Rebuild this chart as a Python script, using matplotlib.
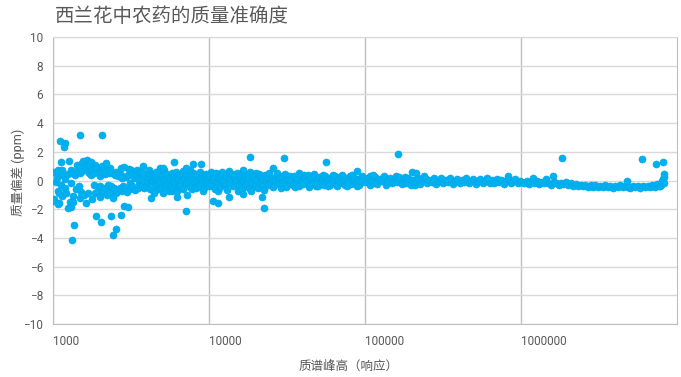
import numpy as np
import matplotlib
matplotlib.use('Agg')
import matplotlib.pyplot as plt

plt.rcParams['font.family'] = ['Roboto', 'Noto Sans CJK SC', 'DejaVu Sans']

# 质谱峰高 (响应) 与 质量偏差 (ppm)
# 低响应区 1000-4200, 偏差较大
low_pts = [
    (1000, 0.6), (1020, -1.3), (1040, -0.1), (1060, 0.2), (1070, 0.7),
    (1080, -0.7), (1090, -1.55), (1100, -0.9), (1110, 0.45), (1120, -0.3),
    (1140, 0.75), (1150, -1.05), (1160, 0.4), (1190, -0.55), (1200, 0.1),
    (1220, -0.85), (1240, 0.45), (1250, -1.9), (1260, 1.35), (1280, -1.5),
    (1300, 0.75), (1310, -0.2), (1330, 0.55), (1350, -1.1), (1380, 0.4),
    (1400, -0.6), (1420, 1.05), (1450, 0.8), (1460, -0.35), (1480, -1.2),
    (1490, 0.5), (1520, -0.8), (1530, 1.2), (1540, 0.65), (1560, 1.35),
    (1590, -1.0), (1600, 0.95), (1620, -1.6), (1650, 0.7), (1660, 1.4),
    (1670, -0.9), (1700, 0.55), (1710, 1.0), (1740, 0.35), (1750, 1.3),
    (1770, -1.3), (1800, 0.7), (1820, -0.3), (1840, 0.5), (1860, 1.1),
    (1870, -0.9), (1900, 0.95), (1930, -0.75), (1960, 0.6), (1990, 0.3),
    (2000, -1.15), (2010, -0.35), (2030, 0.6), (2050, 1.0), (2080, -0.8),
    (2120, 0.8), (2140, -0.55), (2170, 0.45), (2180, 1.2), (2210, -1.0),
    (2230, 0.7), (2260, -0.3), (2290, 0.5), (2320, -0.8), (2330, 0.9),
    (2360, -0.4), (2400, 0.5), (2430, -1.25), (2450, -0.5), (2490, 0.4),
    (2520, -0.9), (2540, 0.6), (2580, -0.7), (2620, 0.3), (2640, 0.55),
    (2700, -0.5), (2720, 0.35), (2740, 0.9), (2760, -0.7), (2780, 0.2),
    (2820, -0.35), (2850, 0.95), (2900, -0.5), (2950, 0.25), (2970, -0.8),
    (3020, 0.4), (3050, 0.8), (3100, -0.6), (3120, -0.2), (3180, 0.7),
    (3210, -0.35), (3270, 0.55), (3300, 0.15), (3360, -0.65), (3420, 0.45),
    (3450, 0.7), (3520, -0.5), (3550, -0.2), (3620, 0.6), (3660, 0.2),
    (3730, -0.3), (3800, 0.55), (3840, -0.5), (3960, -0.4), (4000, 0.0),
    (4040, 0.25), (4080, 0.5),
]

# 4200-10000
mid_pts = [
    (4150, 0.7), (4200, -0.6), (4230, 0.35), (4260, 0.2), (4310, -0.1), (4370, 0.45), (4400, 0.0),
    (4420, -0.85), (4480, 0.05), (4540, 0.6), (4570, -0.2), (4600, -0.35), (4660, 0.25), (4720, -0.6),
    (4750, 0.5), (4790, 0.0), (4850, 0.85), (4910, -0.2), (4950, -0.5), (4980, 0.35), (5050, -0.9),
    (5120, 0.1), (5150, 0.75), (5190, 0.55), (5260, -0.4), (5330, 0.2), (5350, -0.25), (5400, -0.15),
    (5470, 0.4), (5540, -0.7), (5580, 0.05), (5610, 0.15), (5690, -0.3), (5760, 0.5), (5800, -0.75),
    (5840, 0.0), (5920, -0.5), (6000, 0.3), (6050, 0.0), (6080, -0.2), (6170, 0.6), (6250, -0.75),
    (6300, 0.4), (6340, 0.1), (6430, -0.4), (6520, 0.35), (6550, -0.3), (6610, -0.05), (6700, 0.55),
    (6800, -0.6), (6850, 0.65), (6900, 0.2), (7000, -0.25), (7100, 0.45), (7150, -0.1), (7200, -1.0),
    (7300, 0.0), (7400, 0.3), (7450, 0.2), (7500, -0.45), (7600, 0.7), (7710, 0.1), (7750, -0.6),
    (7820, -0.3), (7930, 0.5), (8050, -0.1), (8100, 0.45), (8160, 0.25), (8280, -0.55), (8400, 0.4),
    (8450, -0.2), (8520, 0.0), (8640, -0.35), (8770, 0.6), (8800, 0.1), (8900, 0.15), (9020, -0.2),
    (9150, 0.35), (9200, -0.75), (9290, -0.5), (9420, 0.05), (9560, 0.45), (9600, 0.1), (9700, -0.15),
    (9850, 0.25), (10000, -0.4),
]

# 10000-100000
band_pts = [
    (10200, 0.3), (10300, 0.6), (10400, -0.35), (10600, 0.05), (10800, 0.15), (10900, -0.6),
    (11100, 0.5), (11300, -0.1), (11400, -0.75), (11600, 0.2), (11800, -0.45), (12000, 0.35),
    (12100, 0.6), (12300, 0.0), (12600, -0.3), (12800, -0.15), (12900, 0.35), (13100, -0.65),
    (13400, 0.1), (13500, 0.65), (13700, -0.2), (14000, 0.45), (14300, -0.4), (14400, 0.3),
    (14600, 0.15), (14900, -0.05), (15200, 0.55), (15300, -0.7), (15500, -0.3), (15900, 0.25),
    (16200, -0.6), (16300, 0.45), (16600, 0.0), (16900, 0.4), (17300, -0.25), (17500, 0.0),
    (17700, 0.2), (18000, -0.5), (18400, 0.6), (18600, -0.7), (18800, -0.1), (19200, 0.3),
    (19600, -0.35), (19900, 0.5), (20000, 0.05), (20500, -0.55), (20900, 0.45), (21100, 0.3),
    (21400, -0.2), (21800, 0.15), (22300, -0.4), (22500, -0.65), (22800, 0.35), (23300, 0.0),
    (23800, -0.3), (24000, 0.2), (24300, 0.5), (24800, -0.15), (25400, 0.2), (25600, -0.35),
    (25900, -0.45), (26500, 0.05), (27100, 0.35), (27300, 0.55), (27700, -0.25), (28300, 0.15),
    (28900, -0.5), (29200, 0.0), (29500, 0.3), (30200, -0.1), (30800, 0.45), (31200, -0.45),
    (31500, -0.3), (32200, 0.1), (32900, -0.2), (33000, 0.3),
    (33700, 0.05), (34400, -0.3), (35200, 0.3), (35600, -0.45), (36000, -0.1), (36800, 0.15),
    (37600, -0.35), (38000, 0.5), (38500, 0.4), (39400, 0.0), (40300, -0.25), (40800, 0.35),
    (41200, 0.2), (42200, -0.05), (43200, 0.35), (43700, -0.45), (44200, -0.3), (45200, 0.1),
    (46300, -0.15), (46900, 0.45), (47400, 0.3), (48500, -0.35), (49600, 0.05), (50200, -0.4),
    (50800, 0.25), (52000, -0.2), (53200, 0.1), (53800, 0.4), (54500, -0.3), (55800, 0.3),
    (57100, -0.05), (57800, -0.4), (58500, 0.15), (59900, -0.3), (61300, 0.2), (62000, 0.4),
    (62800, -0.1), (64300, 0.3), (65800, -0.25), (66600, -0.35), (67400, 0.05), (69000, 0.25),
    (70700, -0.2), (71500, 0.4), (72400, 0.1), (74100, -0.3), (75900, 0.2), (76800, -0.35),
    (77700, -0.05), (79600, 0.3), (81500, -0.25), (82500, 0.35), (83500, 0.05), (85500, 0.2),
    (87500, -0.2), (88500, -0.35), (89600, 0.1), (91800, -0.3), (94000, 0.2), (95000, 0.3),
    (96200, -0.1), (98500, 0.15),
]

# 100000-1000000
high_pts = [
    (101000, -0.1), (104000, 0.2), (107000, -0.3), (108000, 0.3), (110000, 0.05), (113000, -0.15),
    (116000, 0.25), (118000, -0.1), (120000, -0.25), (124000, 0.1), (128000, -0.05), (132000, 0.3),
    (136000, -0.3), (138000, -0.1), (140000, 0.0), (145000, 0.2), (150000, -0.2), (155000, 0.1),
    (158000, 0.3), (160000, -0.1), (166000, 0.25), (172000, -0.25), (178000, 0.05), (180000, 0.25),
    (184000, -0.15), (190000, 0.15), (197000, -0.3), (204000, 0.05), (208000, -0.3), (211000, -0.1),
    (218000, 0.2), (226000, -0.25), (234000, 0.0), (238000, 0.3), (242000, 0.15), (250000, -0.2),
    (259000, 0.05), (268000, -0.1), (277000, 0.15), (287000, -0.25), (297000, 0.0), (307000, 0.15),
    (318000, -0.2), (329000, 0.05), (340000, -0.1), (352000, 0.15), (364000, -0.25), (377000, 0.0),
    (390000, 0.1), (404000, -0.2), (418000, 0.05), (432000, -0.1), (447000, 0.15), (463000, -0.2),
    (479000, 0.0), (496000, 0.1), (513000, -0.25), (531000, -0.05), (549000, 0.1), (568000, -0.2),
    (588000, 0.0), (608000, 0.15), (630000, -0.15), (652000, 0.05), (674000, -0.2), (698000, 0.1),
    (722000, -0.1), (747000, 0.05), (773000, -0.25), (800000, 0.0), (828000, 0.1), (857000, -0.2),
    (887000, 0.0), (918000, 0.1), (950000, -0.2), (983000, -0.05),
]

# 1000000 以上
top_pts = [
    (1010000, -0.1), (1050000, -0.2), (1090000, -0.05), (1130000, -0.25), (1170000, -0.1),
    (1210000, -0.2), (1260000, 0.0), (1300000, -0.25), (1350000, -0.1), (1400000, -0.2),
    (1440000, 0.08), (1500000, -0.15), (1560000, -0.28), (1620000, -0.1), (1680000, -0.2),
    (1740000, -0.3), (1800000, -0.15), (1870000, -0.25), (1940000, -0.12), (2010000, -0.3),
    (2080000, -0.2), (2160000, -0.35), (2240000, -0.25), (2320000, -0.38), (2410000, -0.28),
    (2500000, -0.4), (2590000, -0.3), (2690000, -0.45), (2790000, -0.32), (2890000, -0.42),
    (3000000, -0.3), (3110000, -0.48), (3230000, -0.35), (3350000, -0.42), (3470000, -0.3),
    (3600000, -0.45), (3740000, -0.35), (3880000, -0.5), (4020000, -0.38), (4170000, -0.45),
    (4330000, -0.32), (4490000, -0.48), (4660000, -0.38), (4800000, -0.03), (4830000, -0.42),
    (5010000, -0.5), (5200000, -0.35), (5390000, -0.48), (5590000, -0.4), (5800000, -0.52),
    (6020000, -0.38), (6240000, -0.45), (6470000, -0.35), (6710000, -0.48), (6960000, -0.3),
    (7220000, -0.42), (7490000, -0.25), (7700000, -0.35), (7770000, -0.38), (7900000, -0.3),
    (8000000, -0.05), (8100000, 0.1), (8200000, 0.25), (8200000, 0.45), (8200000, -0.2),
]

# 离群点
outlier_pts = [
    (1110, 2.75), (1190, 2.6), (1180, 2.35), (1480, 3.15), (2050, 3.2), (1120, 1.27),
    (1005, -1.41), (1080, -1.66), (1310, -1.82), (1340, -1.52), (1320, -4.17), (1370, -3.12),
    (1890, -2.47), (2040, -2.9), (2350, -2.5), (2420, -3.78), (2540, -3.4), (2730, -2.38),
    (2850, -1.78), (3040, -1.82), (3760, 1.03), (5070, 0.85), (5970, 1.3), (7900, 1.15),
    (8900, 1.13), (7070, 0.87), (4250, -1.24), (6200, -1.13), (7070, -2.1),
    (10650, -1.43), (11450, -1.55), (13400, -1.13), (16500, -0.94), (16500, 0.73),
    (18300, 1.64), (30300, 1.6), (56200, 1.29), (21800, -1.13), (22400, -1.9), (25700, 0.85),
    (89500, 0.63), (112000, 0.38), (162000, 1.83), (199000, 0.57), (212000, 0.5), (822000, 0.31),
    (1190000, 0.2), (1610000, 0.31), (1840000, 1.55), (5940000, 1.5), (7300000, 1.17), (8160000, 1.31),
]

all_pts = np.array(low_pts + mid_pts + band_pts + high_pts + top_pts + outlier_pts)
x = all_pts[:, 0]
y = all_pts[:, 1]

fig = plt.figure(figsize=(6.81, 3.77), dpi=100)
ax = fig.add_axes([53/681, 53/377, 624/681, 287/377])

ax.scatter(x, y, s=26, color='#00B0F0', edgecolors='#00A8E8', linewidths=0.4, zorder=3)

ax.set_xscale('log')
ax.set_xlim(1000, 1e7)
ax.set_ylim(-10, 10)
ax.set_yticks(np.arange(-10, 11, 2))
ax.set_xticks([1000, 10000, 100000, 1000000])
ax.set_xticklabels(['1000', '10000', '100000', '1000000'], ha='left')
ax.minorticks_off()
ax.tick_params(length=0, labelsize=8.5, colors='#595959', pad=8)
ax.tick_params(axis='y', pad=7)

ax.grid(axis='y', color='#d9d9d9', linewidth=1)
ax.grid(axis='x', color='#bfbfbf', linewidth=1)
ax.set_axisbelow(True)
for s in ['left', 'bottom']:
    ax.spines[s].set_color('#bfbfbf')
ax.spines['top'].set_color('#d9d9d9')
ax.spines['right'].set_color('#bfbfbf')

fig.text(55/681, 1 - 17/377, '西兰花中农药的质量准确度', fontsize=14, color='#595959', va='center', ha='left')
fig.text(18/681, 1 - 172/377, '质量偏差 (ppm)', fontsize=9, color='#595959', rotation=90, va='center', ha='center')
fig.text(349/681, 1 - 366/377, '质谱峰高（响应）', fontsize=9, color='#595959', va='center', ha='center')

fig.savefig('out.png', dpi=100)
